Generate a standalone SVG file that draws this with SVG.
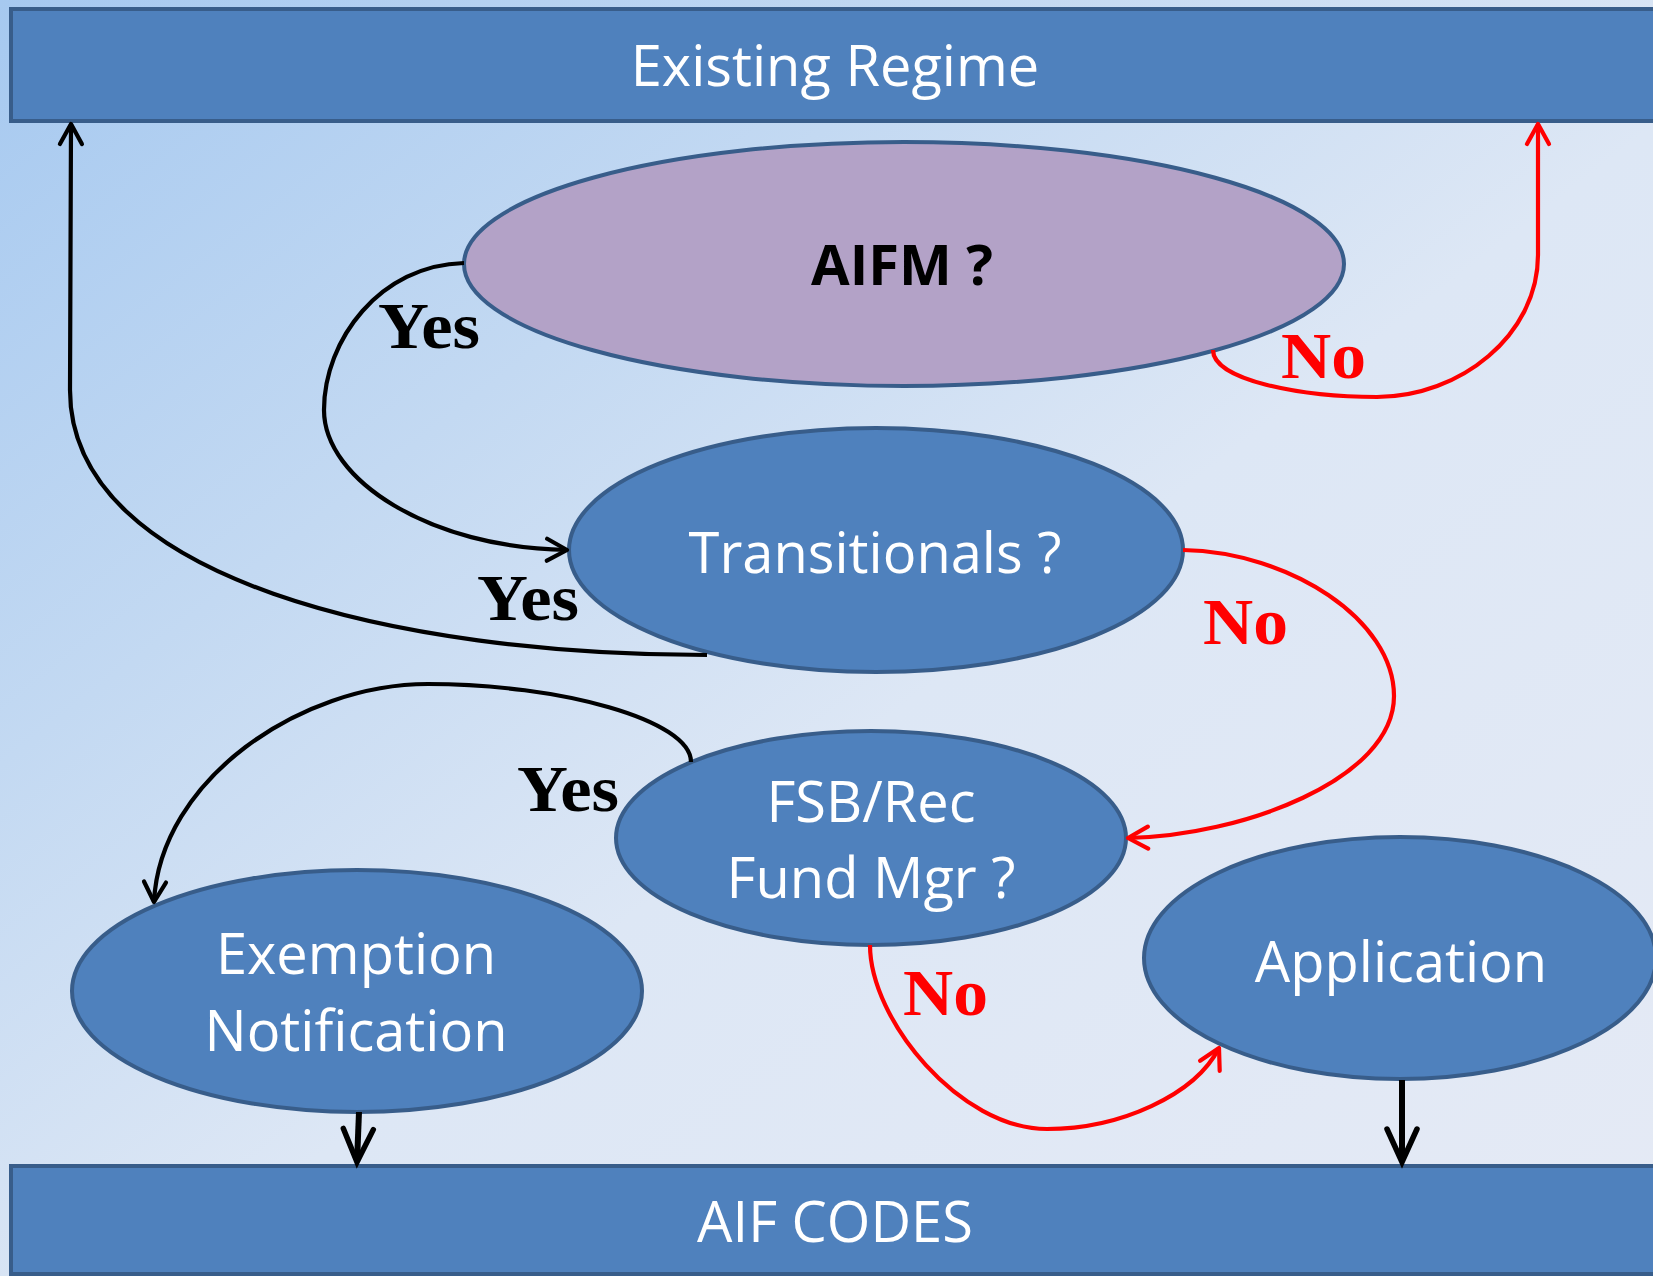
<svg xmlns="http://www.w3.org/2000/svg" width="1653" height="1276" viewBox="0 0 1653 1276">
  <defs>
    <linearGradient id="bg" x1="0" y1="0" x2="1" y2="1">
      <stop offset="0" stop-color="#A6C9F0"/>
      <stop offset="0.3" stop-color="#C3D9F2"/>
      <stop offset="0.55" stop-color="#DDE7F5"/>
      <stop offset="1" stop-color="#E5EAF5"/>
    </linearGradient>
    <marker id="arrB" markerUnits="userSpaceOnUse" viewBox="-3 -3 30 28" markerWidth="30" markerHeight="28" refX="22" refY="11" orient="auto">
      <path d="M2,0 L22,11 L2,22" fill="none" stroke="#000" stroke-width="4.2" stroke-linecap="round" stroke-linejoin="round"/>
    </marker>
    <marker id="arrR" markerUnits="userSpaceOnUse" viewBox="-3 -3 30 28" markerWidth="30" markerHeight="28" refX="22" refY="11" orient="auto">
      <path d="M2,0 L22,11 L2,22" fill="none" stroke="#FF0000" stroke-width="4.2" stroke-linecap="round" stroke-linejoin="round"/>
    </marker>
    <marker id="arrT" markerUnits="userSpaceOnUse" viewBox="-4 -4 44 44" markerWidth="44" markerHeight="44" refX="33" refY="16" orient="auto">
      <path d="M0,1 L33,16 L0,31" fill="none" stroke="#000" stroke-width="5.5" stroke-linecap="round" stroke-linejoin="miter"/>
    </marker>
  </defs>
  <style>
    .bar { fill: #4F81BD; stroke: #385D8A; stroke-width: 4; }
    .node { fill: #4F81BD; stroke: #385D8A; stroke-width: 4; }
    .purple { fill: #B3A2C7; }
    .lbl { font-family: "Open Sans", "Noto Sans", "Liberation Sans", sans-serif; font-size: 56px; fill: #FFFFFF; text-anchor: middle; }
    .dark { fill: #000000; font-weight: bold; }
    .yes { font-family: "Liberation Serif", "DejaVu Serif", serif; font-size: 65px; font-weight: bold; fill: #000000; }
    .no { font-family: "Liberation Serif", "DejaVu Serif", serif; font-size: 65px; font-weight: bold; fill: #FF0000; }
    .cb { fill: none; stroke: #000000; stroke-width: 4.2; }
    .cr { fill: none; stroke: #FF0000; stroke-width: 4.2; }
    .ct { fill: none; stroke: #000000; stroke-width: 6; }
  </style>
  <rect x="0" y="0" width="1653" height="1276" fill="url(#bg)"/>

  <g id="existing-regime">
    <rect class="bar" x="11" y="9" width="1660" height="112"/>
    <text class="lbl" x="835" y="86">Existing Regime</text>
  </g>

  <g id="aif-codes">
    <rect class="bar" x="11" y="1166" width="1660" height="108"/>
    <text class="lbl" x="835" y="1242">AIF CODES</text>
  </g>

  <g id="aifm">
    <ellipse class="node purple" cx="904" cy="264" rx="440" ry="122"/>
    <text class="lbl dark" x="902" y="285">AIFM ?</text>
  </g>

  <g id="transitionals">
    <ellipse class="node" cx="876" cy="550" rx="307" ry="122"/>
    <text class="lbl" x="875" y="573">Transitionals ?</text>
  </g>

  <g id="fsb">
    <ellipse class="node" cx="871" cy="838" rx="255" ry="107"/>
    <text class="lbl" x="871" y="822">FSB/Rec</text>
    <text class="lbl" x="871" y="898">Fund Mgr ?</text>
  </g>

  <g id="exemption">
    <ellipse class="node" cx="357" cy="991" rx="285" ry="121"/>
    <text class="lbl" x="356" y="974">Exemption</text>
    <text class="lbl" x="356" y="1051">Notification</text>
  </g>

  <g id="application">
    <ellipse class="node" cx="1400" cy="958" rx="256" ry="121"/>
    <text class="lbl" x="1401" y="982">Application</text>
  </g>

  <g id="connectors">
    <path class="cb" d="M464,263 C380,265 324,340 324,410 C324,480 430,548 567,550" marker-end="url(#arrB)"/>
    <path class="cb" d="M707,655 C400,655 70,580 70,390 L71,124" marker-end="url(#arrB)"/>
    <path class="cr" d="M1213,350 C1213,380 1300,397 1377,397 C1460,397 1538,335 1538,255 L1538,124" marker-end="url(#arrR)"/>
    <path class="cr" d="M1183,550 C1290,552 1394,620 1394,696 C1394,780 1240,836 1128,838" marker-end="url(#arrR)"/>
    <path class="cb" d="M691,762 C691,720 560,684 428,684 C300,684 160,780 154,902" marker-end="url(#arrB)"/>
    <path class="cr" d="M870,945 C870,1020 960,1129 1047,1129 C1120,1129 1195,1095 1219,1048" marker-end="url(#arrR)"/>
    <path class="ct" d="M359,1112 L357,1162" marker-end="url(#arrT)"/>
    <path class="ct" d="M1402,1080 L1402,1162" marker-end="url(#arrT)"/>

    <text class="yes" x="378" y="348" textLength="102" lengthAdjust="spacingAndGlyphs">Yes</text>
    <text class="yes" x="477" y="620" textLength="102" lengthAdjust="spacingAndGlyphs">Yes</text>
    <text class="yes" x="517" y="811" textLength="102" lengthAdjust="spacingAndGlyphs">Yes</text>
    <text class="no" x="1281" y="378" textLength="85" lengthAdjust="spacingAndGlyphs">No</text>
    <text class="no" x="1203" y="644" textLength="85" lengthAdjust="spacingAndGlyphs">No</text>
    <text class="no" x="903" y="1015" textLength="85" lengthAdjust="spacingAndGlyphs">No</text>
  </g>
</svg>
